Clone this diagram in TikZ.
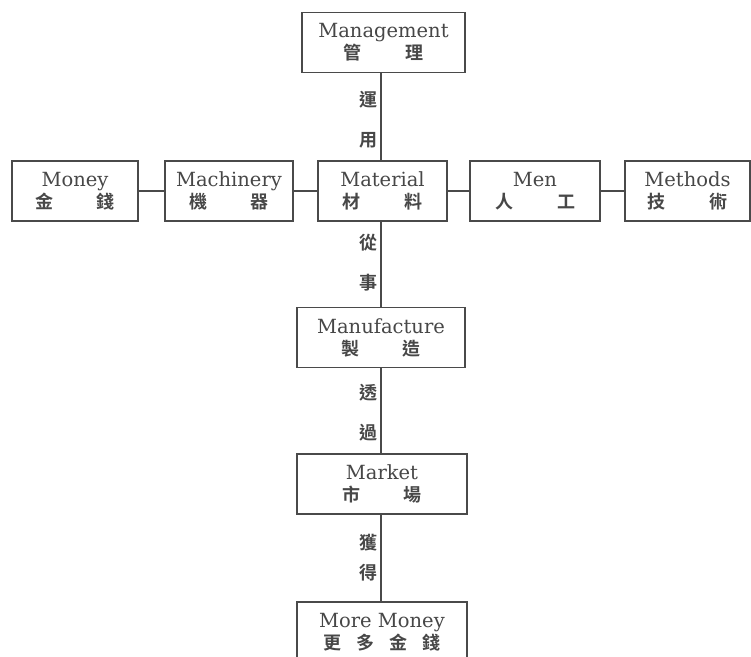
\documentclass[tikz,border=0pt]{standalone}
\usepackage{fontspec}
\setmainfont{DejaVu Serif}
\newfontfamily\cjk{Noto Sans CJK TC}[BoldFont={Noto Sans CJK TC Bold}]
\definecolor{ink}{HTML}{4A4A4A}
\definecolor{txt}{HTML}{474747}
\newcommand{\zhpair}[2]{{\cjk\bfseries\fontsize{18}{18}\selectfont #1\hspace{44pt}#2}}
\tikzset{
  box/.style={draw=ink, line width=1.1pt, minimum height=60pt, inner sep=0pt,
    align=center, text=txt, font=\fontsize{19.5}{22}\selectfont},
  lbl/.style={text=txt, font=\cjk\bfseries\fontsize{18}{18}\selectfont, inner sep=0pt, anchor=east},
  conn/.style={draw=ink, line width=1.1pt}
}
\begin{document}
\begin{tikzpicture}[x=1pt,y=-1pt]
\useasboundingbox (0,0) rectangle (751,656);
\clip (0,0) rectangle (751,656);
\fill[white] (0,0) rectangle (751,656);
\coordinate (sp) at (381,0);
\node[box, minimum width=163pt] (mgmt) at (383.5,42.5) {Management\\[0pt]\zhpair{管}{理}};
\node[box, minimum width=126pt] (money) at (75,191) {Money\\[0pt]\zhpair{金}{錢}};
\node[box, minimum width=128pt] (mach) at (229,191) {Machinery\\[0pt]\zhpair{機}{器}};
\node[box, minimum width=129pt] (mat) at (382.5,191) {Material\\[0pt]\zhpair{材}{料}};
\node[box, minimum width=130pt] (men) at (535,191) {Men\\[0pt]\zhpair{人}{工}};
\node[box, minimum width=125pt] (meth) at (687.5,191) {Methods\\[0pt]\zhpair{技}{術}};
\node[box, minimum width=168pt] (manu) at (381,337.5) {Manufacture\\[0pt]\zhpair{製}{造}};
\node[box, minimum width=170pt] (mkt) at (382,484) {Market\\[0pt]\zhpair{市}{場}};
\node[box, minimum width=170pt] (more) at (382,632) {More Money\\[0pt]{\cjk\bfseries\fontsize{18}{18}\selectfont 更\hspace{15pt}多\hspace{15pt}金\hspace{15pt}錢}};
% horizontal connectors
\draw[conn] (money) -- (mach);
\draw[conn] (mach) -- (mat);
\draw[conn] (mat) -- (men);
\draw[conn] (men) -- (meth);
% vertical spine
\draw[conn] (mgmt.south -| sp) -- (mat.north -| sp);
\draw[conn] (mat.south -| sp) -- (manu.north -| sp);
\draw[conn] (manu.south -| sp) -- (mkt.north -| sp);
\draw[conn] (mkt.south -| sp) -- (more.north -| sp);
% labels
\node[lbl] (l1) at (378,100) {運};
\node[lbl] (l2) at (378,140) {用};
\node[lbl] (l3) at (378,243) {從};
\node[lbl] (l4) at (378,283) {事};
\node[lbl] (l5) at (378,393) {透};
\node[lbl] (l6) at (378,433) {過};
\node[lbl] (l7) at (378,543) {獲};
\node[lbl] (l8) at (378,573) {得};
\end{tikzpicture}
\end{document}
